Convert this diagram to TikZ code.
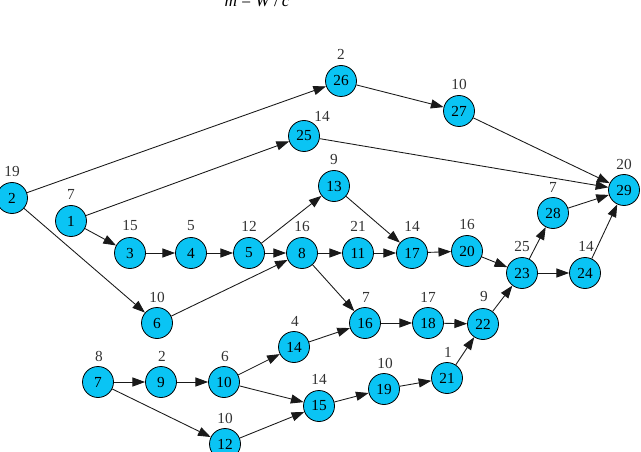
\documentclass[tikz,border=0pt]{standalone}
\usepackage{fontspec}
\setmainfont{Liberation Serif}
\usetikzlibrary{arrows.meta}
\definecolor{vfill}{RGB}{10,196,244}
\tikzset{
  vert/.style={circle,draw=black,line width=0.6pt,fill=vfill,minimum size=23.25pt,inner sep=0pt,font=\fontsize{11.5}{12}\selectfont},
  lab/.style={inner sep=0pt,font=\fontsize{11.5}{12}\selectfont,text=black!80},
  edge/.style={draw=black!90,line width=0.65pt,-{Triangle[length=9.5pt,width=6.8pt]}}
}
\begin{document}
\begin{tikzpicture}[x=0.75pt,y=-0.75pt]
\useasboundingbox (0,0) rectangle (641,452);
\node[anchor=base,inner sep=0pt,font=\fontsize{13}{14}\selectfont] (title) at (257,7) {\textit{m} = \textit{W}\,/\,\textit{c}};
% vertices
\node[vert] (n2) at (12,198) {2};
\node[vert] (n1) at (71,221) {1};
\node[vert] (n3) at (130,253) {3};
\node[vert] (n4) at (191,253) {4};
\node[vert] (n5) at (249,253) {5};
\node[vert] (n8) at (302,253) {8};
\node[vert] (n13) at (334,186) {13};
\node[vert] (n25) at (304,136) {25};
\node[vert] (n26) at (341,81) {26};
\node[vert] (n27) at (459,111) {27};
\node[vert] (n11) at (358,253) {11};
\node[vert] (n17) at (412,253) {17};
\node[vert] (n20) at (467,251) {20};
\node[vert] (n23) at (522,273) {23};
\node[vert] (n28) at (553,213) {28};
\node[vert] (n24) at (585,273) {24};
\node[vert] (n29) at (624,190) {29};
\node[vert] (n6) at (157,323) {6};
\node[vert] (n16) at (365,323) {16};
\node[vert] (n18) at (428,323) {18};
\node[vert] (n22) at (483,324) {22};
\node[vert] (n14) at (294,347) {14};
\node[vert] (n7) at (98,382) {7};
\node[vert] (n9) at (161,382) {9};
\node[vert] (n10) at (224,382) {10};
\node[vert] (n15) at (319,406) {15};
\node[vert] (n19) at (384,389) {19};
\node[vert] (n21) at (447,378) {21};
\node[vert] (n12) at (225,444) {12};
% labels
\node[lab] (l2) at (12,171) {19};
\node[lab] (l1) at (71,194) {7};
\node[lab] (l3) at (130,226) {15};
\node[lab] (l4) at (191,226) {5};
\node[lab] (l5) at (249,226) {12};
\node[lab] (l8) at (302,226) {16};
\node[lab] (l13) at (334,159) {9};
\node[lab] (l25) at (322,116) {14};
\node[lab] (l26) at (341,54) {2};
\node[lab] (l27) at (459,84) {10};
\node[lab] (l11) at (358,226) {21};
\node[lab] (l17) at (412,226) {14};
\node[lab] (l20) at (467,224) {16};
\node[lab] (l23) at (522,246) {25};
\node[lab] (l28) at (553,187) {7};
\node[lab] (l24) at (586,246) {14};
\node[lab] (l29) at (624,164) {20};
\node[lab] (l6) at (157,297) {10};
\node[lab] (l16) at (366,297) {7};
\node[lab] (l18) at (428,297) {17};
\node[lab] (l22) at (484,296) {9};
\node[lab] (l14) at (295,321) {4};
\node[lab] (l7) at (99,356) {8};
\node[lab] (l9) at (162,356) {2};
\node[lab] (l10) at (225,356) {6};
\node[lab] (l15) at (319,379) {14};
\node[lab] (l19) at (385,363) {10};
\node[lab] (l21) at (448,352) {1};
\node[lab] (l12) at (225,418) {10};
% edges
\foreach \a/\b in {2/26,2/6,1/25,1/3,3/4,4/5,5/13,5/8,6/8,8/11,8/16,13/17,11/17,17/20,20/23,
  25/29,26/27,27/29,23/28,23/24,28/29,24/29,16/18,18/22,22/23,7/9,7/12,9/10,10/14,10/15,
  14/16,12/15,15/19,19/21,21/22}
  \draw[edge] (n\a) -- (n\b);
\end{tikzpicture}
\end{document}
